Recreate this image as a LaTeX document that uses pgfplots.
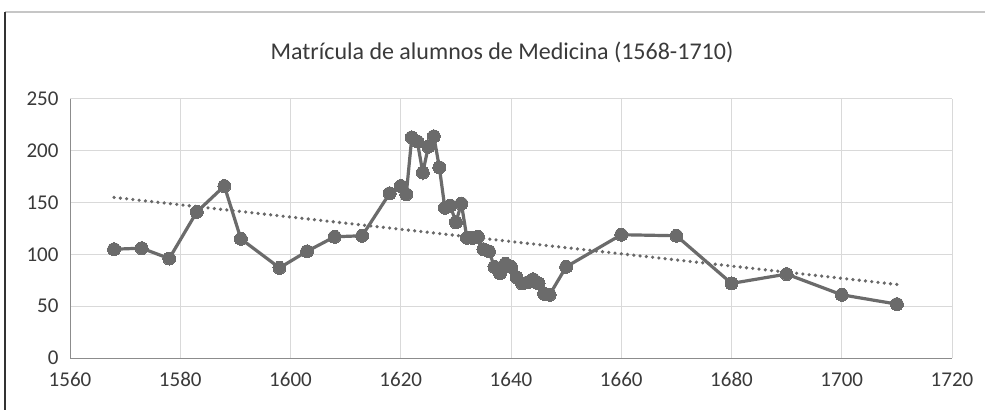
\documentclass[border=0pt]{standalone}
\usepackage{fontspec}
\setmainfont{Carlito}
\usepackage{pgfplots}
\pgfplotsset{compat=1.18}
\definecolor{linegray}{HTML}{6B6B6B}
\definecolor{trendgray}{HTML}{686868}
\definecolor{gridgray}{HTML}{D9D9D9}
\definecolor{axisgray}{HTML}{8C8C8C}
\definecolor{textgray}{HTML}{3A3A3A}
\begin{document}
\begin{tikzpicture}[x=1pt,y=1pt]
\useasboundingbox (0,0) rectangle (985,410);
\fill[white] (0,0) rectangle (985,410);
\draw[gray!45, line width=1.5pt] (5,398) -- (985,398);
\draw[black!80, line width=1.2pt] (5,398) -- (5,0);
\node[font=\fontsize{24}{28}\selectfont, text=textgray] at (502,358) {Matrícula de alumnos de Medicina (1568-1710)};
\begin{axis}[at={(70pt,52pt)}, anchor=south west, scale only axis,
  width=882pt, height=259pt,
  xmin=1560, xmax=1720, ymin=0, ymax=250,
  xtick distance=20, ytick distance=50,
  grid=major, major grid style={gridgray, line width=1pt},
  axis x line*=bottom, axis y line*=left,
  axis line style={axisgray, line width=1pt},
  major tick length=0pt,
  /pgf/number format/assume math mode=true,
  /pgf/number format/1000 sep={},
  tick label style={font=\fontsize{21}{24}\selectfont, text=textgray},
  xticklabel style={yshift=-11pt},
  yticklabel style={xshift=-8pt},
  clip=false]
\addplot[trendgray, line width=3.6pt, line cap=round, dash pattern=on 0pt off 6.3pt] coordinates {(1568,155) (1710,71)};
\addplot[linegray, line width=3.2pt, mark=*, mark size=6.5pt, mark options={fill=linegray, draw=linegray, line width=0pt}] coordinates {
(1568,105) (1573,106) (1578,96) (1583,141) (1588,166) (1591,115) (1598,87) (1603,103) (1608,117) (1613,118)
(1618,159) (1620,166) (1621,158) (1622,213) (1623,209) (1624,179) (1625,204) (1626,214) (1627,184) (1628,145)
(1629,147) (1630,131) (1631,149) (1632,116) (1633,116) (1634,117) (1635,105) (1636,103) (1637,88) (1638,82)
(1639,91) (1640,88) (1641,78) (1642,72) (1643,73) (1644,76) (1645,72) (1646,62) (1647,61) (1650,88)
(1660,119) (1670,118) (1680,72) (1690,81) (1700,61) (1710,52)};
\end{axis}
\end{tikzpicture}
\end{document}
